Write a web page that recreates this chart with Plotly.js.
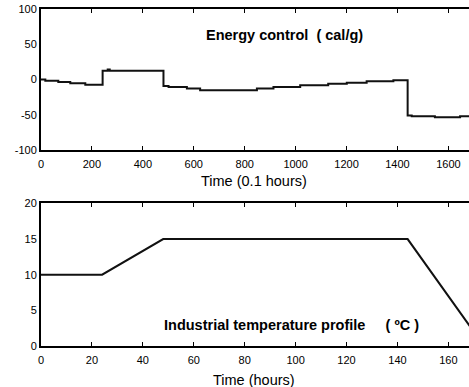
<!DOCTYPE html>
<html><head><meta charset="utf-8">
<script src="https://cdn.plot.ly/plotly-3.0.1.min.js"></script>
<style>html,body{margin:0;padding:0;background:#fff}</style>
</head><body>
<div id="chart" style="width:469px;height:387px"></div>
<script>
// Energy control (cal/g) vs time (0.1 hours), step profile
const energyTime = [0, 17, 68, 115, 174, 242, 262, 270, 480, 481, 501, 573, 625, 848, 913, 1018, 1128, 1201, 1279, 1384, 1439, 1440, 1456, 1547, 1646, 1690];
const energyValue = [0, -1.7, -3.5, -5.2, -7.4, 12.7, 14.3, 12.7, 12.7, -8.9, -10.4, -12.7, -15, -12.7, -10.4, -8, -5.7, -4.3, -2.5, -1, -1, -50.7, -52, -53.5, -52, -52];
// Industrial temperature profile (ºC) vs time (hours)
const tempTime = [0, 24, 48, 144, 170];
const tempValue = [10, 10, 15, 15, 2];

const xTicksTop = [0, 200, 400, 600, 800, 1000, 1200, 1400, 1600];
const yTicksTop = [-100, -50, 0, 50, 100];
const xTicksBottom = [0, 20, 40, 60, 80, 100, 120, 140, 160];
const yTicksBottom = [0, 5, 10, 15, 20];

const fam = 'Liberation Sans, Arial, sans-serif';
const font = {family: fam, size: 11, color: '#000'};
const titleFont = {family: fam, size: 14.5, color: '#000'};

const traces = [
  {x: energyTime, y: energyValue, type: 'scatter', mode: 'lines', line: {color: '#111', width: 2, shape: 'hv'}, xaxis: 'x', yaxis: 'y', hoverinfo: 'skip'},
  {x: tempTime, y: tempValue, type: 'scatter', mode: 'lines', line: {color: '#111', width: 2}, xaxis: 'x2', yaxis: 'y2', hoverinfo: 'skip'}
];

const xCommon = {showline: true, linecolor: '#000', linewidth: 2, mirror: 'ticks', ticks: 'inside', ticklen: 4, tickcolor: '#000', tickwidth: 1, showgrid: false, zeroline: false, tickfont: font, ticklabelstandoff: 3};
const yCommon = {showline: true, linecolor: '#000', linewidth: 2, mirror: false, ticks: '', showgrid: false, zeroline: false, tickfont: font};

const layout = {
  width: 469, height: 387,
  margin: {l: 41, r: 0, t: 9, b: 41},
  paper_bgcolor: '#fff', plot_bgcolor: '#fff',
  showlegend: false,
  font: font,
  xaxis: Object.assign({}, xCommon, {domain: [0, 1], range: [0, 1681], tickvals: xTicksTop, ticktext: xTicksTop.map(String), anchor: 'y'}),
  yaxis: Object.assign({}, yCommon, {domain: [0.581, 1], range: [-100, 100], tickvals: yTicksTop, ticktext: yTicksTop.map(String), anchor: 'x'}),
  xaxis2: Object.assign({}, xCommon, {domain: [0, 1], range: [0, 168.1], tickvals: xTicksBottom, ticktext: xTicksBottom.map(String), anchor: 'y2'}),
  yaxis2: Object.assign({}, yCommon, {domain: [0, 0.423], range: [0, 20], tickvals: yTicksBottom, ticktext: yTicksBottom.map(String), anchor: 'x2'}),
  annotations: [
    {xref: 'paper', yref: 'paper', x: 254, y: 180.7, text: 'Time (0.1 hours)', showarrow: false, font: titleFont},
    {xref: 'paper', yref: 'paper', x: 254, y: 380, text: 'Time (hours)', showarrow: false, font: titleFont},
    {xref: 'paper', yref: 'paper', x: 284, y: 35, text: '<b>Energy control  ( cal/g)</b>', showarrow: false, font: titleFont},
    {xref: 'paper', yref: 'paper', x: 291.7, y: 325, text: '<b>Industrial temperature profile     ( ºC )</b>', showarrow: false, font: titleFont}
  ]
};
// convert pixel positions of the text labels to paper fractions, centred on them
const pw = 469 - 41, ph = 387 - 9 - 41;
layout.annotations.forEach(a => {
  a.x = (a.x - 41) / pw; a.y = (387 - 41 - a.y) / ph;
  a.xanchor = 'center'; a.yanchor = 'middle';
});

Plotly.newPlot('chart', traces, layout, {staticPlot: true, displayModeBar: false});
</script>
</body></html>
